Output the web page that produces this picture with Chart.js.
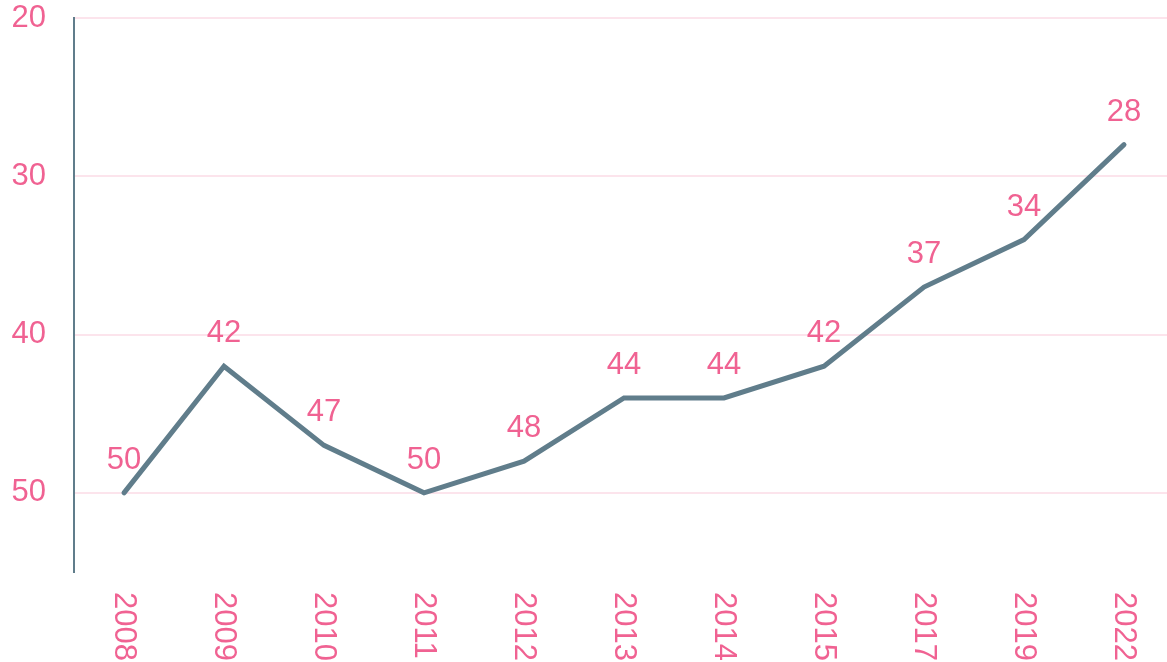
<!DOCTYPE html>
<html>
<head>
<meta charset="utf-8">
<script src="https://cdn.jsdelivr.net/npm/chart.js@4"></script>
<style>
  html, body { margin: 0; padding: 0; background: #fff; }
  #wrap { width: 1167px; height: 662px; position: relative; }
</style>
</head>
<body>
<div id="wrap"><canvas id="rankChart"></canvas></div>
<script>
// dados do gráfico
const years = ["2008", "2009", "2010", "2011", "2012", "2013", "2014", "2015", "2017", "2019", "2022"];
const ranks = [50, 42, 47, 50, 48, 44, 44, 42, 37, 34, 28];
const yTicks = [20, 30, 40, 50];

const pink = "#f06292";
const slate = "#607d8b";
const fontFamily = "Liberation Sans, Arial, sans-serif";

// rótulos de valor e rótulos do eixo x (rodados 90 graus)
const labelPlugin = {
    id: "labelPlugin",
    afterDatasetsDraw(chart) {
        const ctx = chart.ctx;
        const xs = chart.scales.x;
        const ys = chart.scales.y;
        ctx.save();
        ctx.fillStyle = pink;
        ctx.font = "31px " + fontFamily;
        ctx.textAlign = "center";
        ctx.textBaseline = "alphabetic";
        ranks.forEach((v, i) => {
            ctx.fillText(String(v), xs.getPixelForValue(i), ys.getPixelForValue(v) - 24);
        });
        years.forEach((y, i) => {
            ctx.save();
            ctx.translate(xs.getPixelForValue(i), chart.chartArea.bottom + 20);
            ctx.rotate(Math.PI / 2);
            ctx.textAlign = "left";
            ctx.textBaseline = "middle";
            ctx.fillText(y, 0, 0);
            ctx.restore();
        });
        ctx.restore();
    }
};

const ctx = document.getElementById("rankChart").getContext("2d");
new Chart(ctx, {
    type: "line",
    data: {
        datasets: [{
            data: ranks.map((v, i) => ({ x: i, y: v })),
            borderColor: slate,
            borderWidth: 5,
            borderCapStyle: "round",
            pointRadius: 0,
            tension: 0,
            fill: false
        }]
    },
    options: {
        responsive: true,
        maintainAspectRatio: false,
        animation: false,
        layout: { padding: { top: 18, right: 0, bottom: 90, left: 0 } },
        plugins: { legend: { display: false }, tooltip: { enabled: false } },
        scales: {
            x: {
                type: "linear",
                display: false,
                min: -0.5,
                max: 10.43
            },
            y: {
                reverse: true,
                min: 20,
                max: 55,
                afterBuildTicks: (scale) => {
                    scale.ticks = yTicks.map(v => ({ value: v }));
                },
                afterFit: (scale) => {
                    scale.width = 74;
                    scale.paddingTop = 0;
                    scale.paddingBottom = 0;
                },
                grid: { color: "#fce4ec", lineWidth: 2, drawTicks: false },
                border: { color: slate, width: 2 },
                ticks: {
                    color: pink,
                    padding: 28,
                    font: { size: 31, family: fontFamily }
                }
            }
        }
    },
    plugins: [labelPlugin]
});
</script>
</body>
</html>
